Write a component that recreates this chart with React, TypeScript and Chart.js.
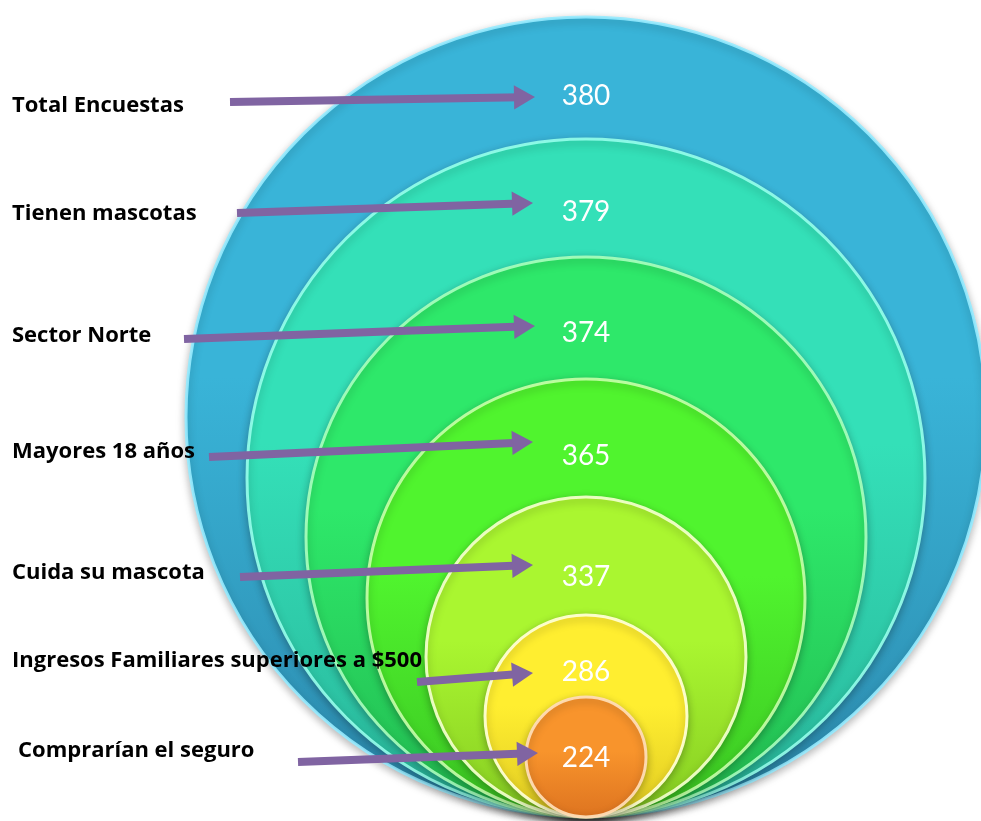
import React, { useEffect, useRef } from "react";
import { Chart, registerables } from "chart.js";

Chart.register(...registerables);

// ---- data ----
const categories = [
  "Total Encuestas",
  "Tienen mascotas",
  "Sector Norte",
  "Mayores 18 años",
  "Cuida su mascota",
  "Ingresos Familiares superiores a $500",
  "Comprarían el seguro",
];
const values = [380, 379, 374, 365, 337, 286, 224];
// relative circle sizes (chart units)
const circleRadii = [400, 339, 280, 219, 160, 101, 60];

// ---- layout (chart units: x from circle centre line, y up from common tangent) ----
const labelX = [-574, -574, -574, -574, -574, -574, -568];
const labelBaseY = [705, 597, 475, 359, 238, 150, 60];
const valueCenterY = [721, 605, 484, 361, 240, 145, 59];
const arrowStartX = [-356, -349, -402, -377, -346, -169, -288];
const arrowStartY = [715, 604, 478, 360, 240, 135, 55];
const arrowTipX = [-51, -53, -51, -53, -53, -53, -48];
const arrowTipY = [720, 614, 491, 375, 252, 144, 64];

// ---- styles ----
const topColors = ["#39B4D8", "#34E0B8", "#2EE86A", "#50F42E", "#AAF630", "#FFEE30", "#F8942C"];
const bottomColors = ["#2C89AC", "#29B59A", "#22BA50", "#3BC522", "#86CC22", "#E0CA22", "#DE7420"];
const rimColors = [
  "rgba(150,235,255,0.9)",
  "rgba(150,255,235,0.9)",
  "rgba(170,255,190,0.9)",
  "rgba(200,255,170,0.9)",
  "rgba(240,255,200,0.95)",
  "rgba(255,255,210,0.95)",
  "rgba(255,220,180,0.95)",
];
const arrowColor = "#8064A2";
const HEAD = 14;

const shadowPlugin = {
  id: "circleShadow",
  beforeDatasetDraw(chart: any, args: any) {
    if (args.meta.type === "bubble") {
      const ctx = chart.ctx;
      ctx.save();
      ctx.shadowColor = "rgba(0,0,0,0.28)";
      ctx.shadowBlur = 8;
      ctx.shadowOffsetY = 3;
    }
  },
  afterDatasetDraw(chart: any, args: any) {
    if (args.meta.type === "bubble") chart.ctx.restore();
  },
};

const textPlugin = {
  id: "textLabels",
  afterDatasetsDraw(chart: any) {
    const { ctx, scales } = chart;
    const xs = scales.x;
    const ys = scales.y;
    ctx.save();
    ctx.fillStyle = "#000";
    ctx.font = "bold 22px 'Open Sans', Lato, sans-serif";
    ctx.textAlign = "left";
    ctx.textBaseline = "alphabetic";
    categories.forEach((c, i) => {
      ctx.fillText(c, xs.getPixelForValue(labelX[i]), ys.getPixelForValue(labelBaseY[i]));
    });
    ctx.fillStyle = "#FFFFFF";
    ctx.font = "28px Lato, 'Open Sans', sans-serif";
    ctx.textAlign = "center";
    ctx.textBaseline = "middle";
    values.forEach((v, i) => {
      ctx.fillText(String(v), xs.getPixelForValue(0), ys.getPixelForValue(valueCenterY[i]));
    });
    ctx.restore();
  },
};

function pxRadius(chart: any, r: number) {
  const ys = chart.scales && chart.scales.y;
  if (!ys) return r;
  const v = Math.abs(ys.getPixelForValue(r) - ys.getPixelForValue(0));
  return isFinite(v) ? v : r;
}

export default function App() {
  const ref = useRef<HTMLCanvasElement | null>(null);
  useEffect(() => {
    document.body.style.margin = "0";
    const canvas = ref.current;
    if (!canvas) return;

    const circleData = circleRadii.map((r) => ({ x: 0, y: r }));

    const arrowSets = categories.map((c, i) => {
      const dx = arrowTipX[i] - arrowStartX[i];
      const dy = arrowTipY[i] - arrowStartY[i];
      const len = Math.sqrt(dx * dx + dy * dy);
      const ex = arrowTipX[i] - (dx / len) * HEAD;
      const ey = arrowTipY[i] - (dy / len) * HEAD;
      const theta = Math.atan2(-dy, dx);
      const rot = (theta * 180) / Math.PI + 90;
      return {
        type: "line" as const,
        label: c,
        data: [
          { x: arrowStartX[i], y: arrowStartY[i] },
          { x: ex, y: ey },
        ],
        borderColor: arrowColor,
        borderWidth: 8,
        borderCapStyle: "butt" as const,
        backgroundColor: arrowColor,
        pointRadius: [0, HEAD],
        pointStyle: "triangle" as const,
        pointRotation: [0, rot],
        pointBackgroundColor: arrowColor,
        pointBorderColor: arrowColor,
        pointBorderWidth: 0,
        pointHoverRadius: [0, HEAD],
        fill: false,
        order: 0,
        clip: false as any,
      };
    });

    const chart = new Chart(canvas, {
      type: "bubble",
      data: {
        datasets: [
          {
            type: "bubble",
            label: "circles",
            data: circleData,
            order: 10,
            clip: false as any,
            radius: (c: any) => pxRadius(c.chart, circleRadii[c.dataIndex] ?? 0),
            hoverRadius: 0,
            borderWidth: 3,
            borderColor: (c: any) => rimColors[c.dataIndex] ?? "#fff",
            backgroundColor: (c: any) => {
              const i = c.dataIndex ?? 0;
              const chart = c.chart;
              const xs = chart.scales && chart.scales.x;
              const ys = chart.scales && chart.scales.y;
              if (!xs || !ys) return topColors[i];
              const r = circleRadii[i];
              const top = ys.getPixelForValue(2 * r);
              const bot = ys.getPixelForValue(0);
              if (!isFinite(top) || !isFinite(bot)) return topColors[i];
              const g = chart.ctx.createLinearGradient(0, top, 0, bot);
              g.addColorStop(0, topColors[i]);
              g.addColorStop(0.45, topColors[i]);
              g.addColorStop(1, bottomColors[i]);
              return g;
            },
          } as any,
          ...arrowSets,
        ],
      },
      options: {
        animation: false,
        responsive: false,
        events: [],
        layout: { padding: 0, autoPadding: false },
        plugins: { legend: { display: false }, tooltip: { enabled: false } },
        scales: {
          x: { type: "linear", display: false, min: -586, max: 395 },
          y: { type: "linear", display: false, min: -4, max: 817 },
        },
      } as any,
      plugins: [shadowPlugin, textPlugin],
    });
    return () => chart.destroy();
  }, []);

  return (
    <div style={{ position: "absolute", left: 0, top: 0, width: 981, height: 821 }}>
      <canvas ref={ref} width={981} height={821} style={{ display: "block" }} />
    </div>
  );
}
